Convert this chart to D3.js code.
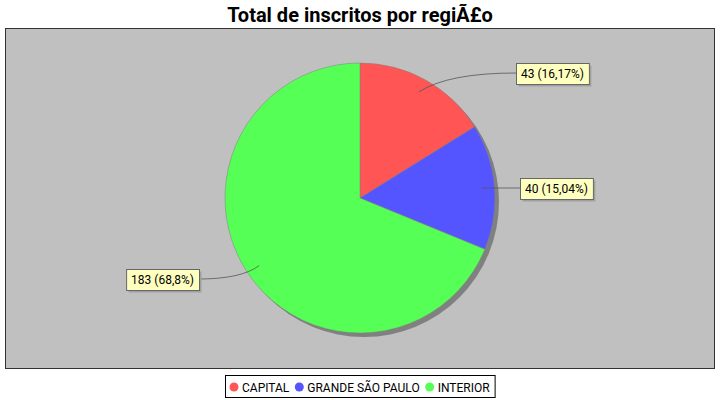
<!DOCTYPE html>
<html>
<head>
<meta charset="utf-8">
<script src="https://cdn.jsdelivr.net/npm/d3@7"></script>
<style>
  body { margin: 0; background: #fff; }
  text { font-family: Roboto, "Liberation Sans", sans-serif; }
</style>
</head>
<body>
<div id="chart"></div>
<script>
// chart data
const categories = ['CAPITAL', 'GRANDE SÃO PAULO', 'INTERIOR'];
const values = [43, 40, 183];
const labels = ['43 (16,17%)', '40 (15,04%)', '183 (68,8%)'];
const colors = ['#ff5555', '#5555ff', '#55ff55'];
const title = 'Total de inscritos por regiÃ£o';

const width = 720, height = 400;
const cx = 360, cy = 198, r = 135;

const svg = d3.select('#chart').append('svg')
    .attr('width', width)
    .attr('height', height);

svg.append('text')
    .attr('x', width / 2)
    .attr('y', 22)
    .attr('text-anchor', 'middle')
    .style('font-size', '20px')
    .style('font-weight', 'bold')
    .text(title);

// plot area
svg.append('rect')
    .attr('x', 5.5).attr('y', 28.5)
    .attr('width', 709).attr('height', 340)
    .attr('fill', '#c0c0c0')
    .attr('stroke', '#333')
    .attr('stroke-width', 1);

const pie = d3.pie().sort(null).value(d => d);
const arcs = pie(values);
const arc = d3.arc().innerRadius(0).outerRadius(r);

const g = svg.append('g').attr('transform', 'translate(' + cx + ',' + cy + ')');

// shadow
g.append('circle')
    .attr('cx', 4).attr('cy', 4).attr('r', r)
    .attr('fill', '#808080');

g.selectAll('path.slice')
    .data(arcs)
    .enter().append('path')
    .attr('class', 'slice')
    .attr('d', arc)
    .attr('fill', (d, i) => colors[i])
    .attr('stroke', '#808080')
    .attr('stroke-width', 0.5);

// label anchor positions (box left/right edge and vertical centre)
const labelPos = [
    { x: 516, y: 73, side: 'right' },
    { x: 520, y: 188, side: 'right' },
    { x: 199, y: 279, side: 'left' }
];

arcs.forEach((d, i) => {
    const mid = (d.startAngle + d.endAngle) / 2;
    const pr = r * 0.9;
    const px = cx + Math.sin(mid) * pr;
    const py = cy - Math.cos(mid) * pr;
    const lp = labelPos[i];
    // curved link
    const c1x = px + (lp.x - px) * 0.3, c1y = lp.y;
    svg.append('path')
        .attr('d', 'M' + px + ',' + py + ' Q' + c1x + ',' + c1y + ' ' + lp.x + ',' + lp.y)
        .attr('fill', 'none')
        .attr('stroke', '#555')
        .attr('stroke-width', 0.8);

    const t = svg.append('text')
        .style('font-size', '12px')
        .attr('y', lp.y + 4.5)
        .text(labels[i]);
    const w = t.node().getComputedTextLength() + 10;
    const bx = lp.side === 'right' ? lp.x : lp.x - w;
    t.attr('x', bx + 5);
    svg.insert('rect', function () { return t.node(); })
        .attr('x', bx + 2.5).attr('y', lp.y - 10 + 2.5)
        .attr('width', w).attr('height', 21)
        .attr('fill', '#a0a0a0');
    svg.insert('rect', function () { return t.node(); })
        .attr('x', bx + 0.5).attr('y', lp.y - 10 + 0.5)
        .attr('width', w).attr('height', 21)
        .attr('fill', '#ffffc0')
        .attr('stroke', '#666')
        .attr('stroke-width', 1);
});

// legend
const legend = svg.append('g');
const legendItems = legend.selectAll('g')
    .data(categories)
    .enter().append('g');
let lx = 0;
legendItems.each(function (d, i) {
    const it = d3.select(this);
    it.append('circle').attr('cx', lx + 5).attr('cy', 0).attr('r', 4.5).attr('fill', colors[i]);
    const t = it.append('text').attr('x', lx + 13).attr('y', 4.5).style('font-size', '12px').text(d);
    lx += 13 + t.node().getComputedTextLength() + 5;
});
const lw = lx + 4;
const lx0 = Math.round(width / 2 - lw / 2);
legend.attr('transform', 'translate(' + (lx0 + 4) + ',387)');
svg.insert('rect', function () { return legend.node(); })
    .attr('x', lx0 + 0.5).attr('y', 375.5)
    .attr('width', lw).attr('height', 22)
    .attr('fill', '#fff')
    .attr('stroke', '#000')
    .attr('stroke-width', 1);
</script>
</body>
</html>
